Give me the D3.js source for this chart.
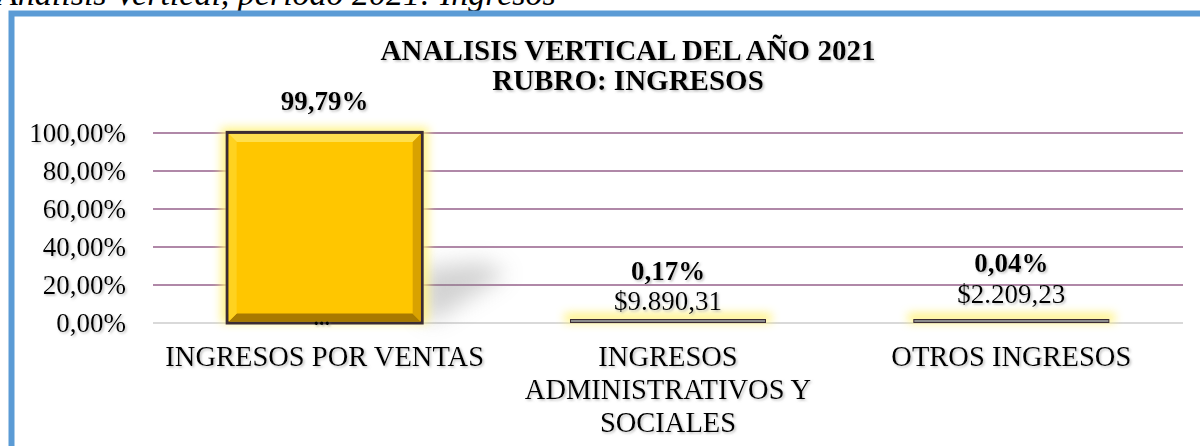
<!DOCTYPE html>
<html>
<head>
<meta charset="utf-8">
<script src="https://cdnjs.cloudflare.com/ajax/libs/d3/7.8.5/d3.min.js"></script>
<style>
  body { margin: 0; background: #fff; overflow: hidden; }
  svg { display: block; font-family: "Liberation Serif", "Times New Roman", serif; }
</style>
</head>
<body>
<svg id="chart" width="1200" height="446"></svg>
<script>
// DATA
var categories = ["INGRESOS POR VENTAS", "INGRESOS ADMINISTRATIVOS Y SOCIALES", "OTROS INGRESOS"];
var percentages = [99.79, 0.17, 0.04];
var amountLabels = ["...", "$9.890,31", "$2.209,23"];
var yTicks = [0, 20, 40, 60, 80, 100];
var captionText = "Analisis Vertical, periodo 2021: Ingresos";
var titleLines = ["ANALISIS VERTICAL DEL AÑO 2021", "RUBRO: INGRESOS"];

// rows for the bars, built from the arrays above
var rows = categories.map(function(c, i) {
  return {cat: c, value: percentages[i], amount: amountLabels[i], idx: i};
});

var svg = d3.select('#chart');
var margin = {left: 153, right: 17, top: 133, bottom: 123};
var W = 1200, H = 446;

var x = d3.scaleBand()
  .domain(categories)
  .range([margin.left, W - margin.right])
  .paddingInner(0.432)
  .paddingOuter(0.216);

var y = d3.scaleLinear()
  .domain([0, 100])
  .range([H - margin.bottom, margin.top]);

var comma = function(v) { return d3.format('.2f')(v).replace('.', ','); };

// FILTERS
var defs = svg.append('defs');
var ts = defs.append('filter').attr('id', 'tshadow')
  .attr('x', '-10%').attr('y', '-20%').attr('width', '130%').attr('height', '160%');
ts.append('feDropShadow').attr('dx', 1.5).attr('dy', 1.5).attr('stdDeviation', 1)
  .attr('flood-color', '#888').attr('flood-opacity', 0.55);

defs.append('filter').attr('id', 'glow')
  .attr('x', '-30%').attr('y', '-300%').attr('width', '160%').attr('height', '700%')
  .append('feGaussianBlur').attr('stdDeviation', 5);

defs.append('filter').attr('id', 'soft')
  .attr('x', '-50%').attr('y', '-80%').attr('width', '200%').attr('height', '260%')
  .append('feGaussianBlur').attr('stdDeviation', 11);

// caption above the frame (cut by the top of the page)
svg.append('text')
  .attr('x', -3).attr('y', 5)
  .attr('font-size', 34).attr('font-style', 'italic')
  .text(captionText);

// blue frame
svg.append('rect')
  .attr('x', 11.5).attr('y', 13.5)
  .attr('width', W + 20).attr('height', H + 20)
  .attr('fill', 'none').attr('stroke', '#5b9bd5').attr('stroke-width', 6);

// TITLE
svg.append('g').selectAll('text')
  .data(titleLines)
  .enter().append('text')
    .attr('x', 628)
    .attr('y', function(d, i) { return 60 + i * 30; })
    .attr('text-anchor', 'middle')
    .attr('font-size', 29).attr('font-weight', 'bold')
    .attr('filter', 'url(#tshadow)')
    .text(function(d) { return d; });

// GRIDLINES
svg.append('g').selectAll('line')
  .data(yTicks)
  .enter().append('line')
    .attr('x1', margin.left).attr('x2', W - margin.right)
    .attr('y1', function(d) { return y(d); })
    .attr('y2', function(d) { return y(d); })
    .attr('stroke', function(d) { return d === 0 ? '#d9d9d9' : '#b088a8'; })
    .attr('stroke-width', 2);

// Y LABELS
svg.append('g').selectAll('text')
  .data(yTicks)
  .enter().append('text')
    .attr('x', 126)
    .attr('y', function(d) { return y(d) + 9; })
    .attr('text-anchor', 'end')
    .attr('font-size', 27)
    .attr('filter', 'url(#tshadow)')
    .text(function(d) { return comma(d) + '%'; });

// BARS
var bars = svg.append('g').selectAll('g')
  .data(rows)
  .enter().append('g');

var bx = function(d) { return x(d.cat); };
var bw = x.bandwidth();
var isTall = function(d) { return y(0) - y(d.value) > 20; };

// perspective shadow of the tall bar
bars.filter(isTall)
  .append('polygon')
    .attr('points', function(d) {
      var r = bx(d) + bw, b = y(0) - 4, h = (y(0) - y(d.value)) * 0.27;
      return [[r, b], [r, b - h], [r + 60, b - h - 6], [r + 85, b - h + 6], [r + 15, b]].join(' ');
    })
    .attr('fill', '#8a8a8a').attr('opacity', 0.38)
    .attr('filter', 'url(#soft)');

// yellow glow
bars.append('rect')
  .attr('x', function(d) { return bx(d) - 6; })
  .attr('y', function(d) { return Math.min(y(d.value) - 6, y(0) - 10); })
  .attr('width', bw + 12)
  .attr('height', function(d) { return Math.max(y(0) - y(d.value) + 6, 10); })
  .attr('fill', '#fff27a').attr('opacity', 0.9)
  .attr('filter', 'url(#glow)');

// bar body (tall)
var tall = bars.filter(isTall);
tall.append('rect')
  .attr('x', function(d) { return bx(d); })
  .attr('y', function(d) { return y(d.value) - 1; })
  .attr('width', bw)
  .attr('height', function(d) { return y(0) - y(d.value) + 1; })
  .attr('fill', '#ffc600')
  .attr('stroke', '#3b2c33').attr('stroke-width', 3);

// bar body (tiny values: outline collapses to a thin double line)
bars.filter(function(d) { return !isTall(d); })
  .append('rect')
    .attr('x', function(d) { return bx(d); })
    .attr('y', function(d) { return Math.round(y(d.value)) - 3.5; })
    .attr('width', bw)
    .attr('height', 3)
    .attr('fill', '#8c8c8c')
    .attr('stroke', '#3b2c33').attr('stroke-width', 1);

// bevel edges on tall bars
var bev = 8;
tall.append('polygon')
  .attr('points', function(d) {
    var l = bx(d) + 1.5, r = bx(d) + bw - 1.5, t = y(d.value) + 0.5;
    return [[l, t], [r, t], [r - bev, t + bev], [l + bev, t + bev]].join(' ');
  })
  .attr('fill', '#ffdf4d');
tall.append('polygon')
  .attr('points', function(d) {
    var l = bx(d) + 1.5, r = bx(d) + bw - 1.5, b = y(0) - 1.5;
    return [[l, b], [r, b], [r - bev, b - bev], [l + bev, b - bev]].join(' ');
  })
  .attr('fill', '#a87a00');
tall.append('polygon')
  .attr('points', function(d) {
    var r = bx(d) + bw - 1.5, t = y(d.value) + 0.5, b = y(0) - 1.5;
    return [[r, t], [r, b], [r - bev, b - bev], [r - bev, t + bev]].join(' ');
  })
  .attr('fill', '#d9a200');
tall.append('polygon')
  .attr('points', function(d) {
    var l = bx(d) + 1.5, t = y(d.value) + 0.5, b = y(0) - 1.5;
    return [[l, t], [l, b], [l + bev, b - bev], [l + bev, t + bev]].join(' ');
  })
  .attr('fill', '#ffd21f');

// VALUE LABELS
var pctY = [null, 280, 272];
var amtY = [null, 310, 303];
bars.append('text')
  .attr('x', function(d) { return bx(d) + bw / 2; })
  .attr('y', function(d) { return d.idx === 0 ? y(d.value) - 23 : pctY[d.idx]; })
  .attr('text-anchor', 'middle')
  .attr('font-size', 27).attr('font-weight', 'bold')
  .attr('filter', 'url(#tshadow)')
  .text(function(d) { return comma(d.value) + '%'; });

bars.append('text')
  .attr('x', function(d) { return bx(d) + bw / 2 + (d.idx === 0 ? -3 : 0); })
  .attr('y', function(d) { return d.idx === 0 ? y(0) + 2 : amtY[d.idx]; })
  .attr('text-anchor', 'middle')
  .attr('font-size', function(d) { return d.idx === 0 ? 22 : 27; })
  .attr('font-weight', function(d) { return d.idx === 0 ? 'bold' : 'normal'; })
  .attr('filter', 'url(#tshadow)')
  .text(function(d) { return d.amount; });

// CATEGORY LABELS (wrapped)
var catG = svg.append('g').selectAll('text')
  .data(categories)
  .enter().append('text')
    .attr('x', function(d) { return x(d) + bw / 2; })
    .attr('y', 366)
    .attr('text-anchor', 'middle')
    .attr('font-size', 28.5)
    .attr('filter', 'url(#tshadow)');

catG.each(function(d) {
  var t = d3.select(this), words = d.split(' '), line = [];
  var ts = t.append('tspan').attr('x', t.attr('x')).attr('dy', 0);
  words.forEach(function(w) {
    line.push(w);
    ts.text(line.join(' '));
    if (ts.node().getComputedTextLength() > 340 && line.length > 1) {
      line.pop();
      ts.text(line.join(' '));
      line = [w];
      ts = t.append('tspan').attr('x', t.attr('x')).attr('dy', 33).text(w);
    }
  });
});
</script>
</body>
</html>
